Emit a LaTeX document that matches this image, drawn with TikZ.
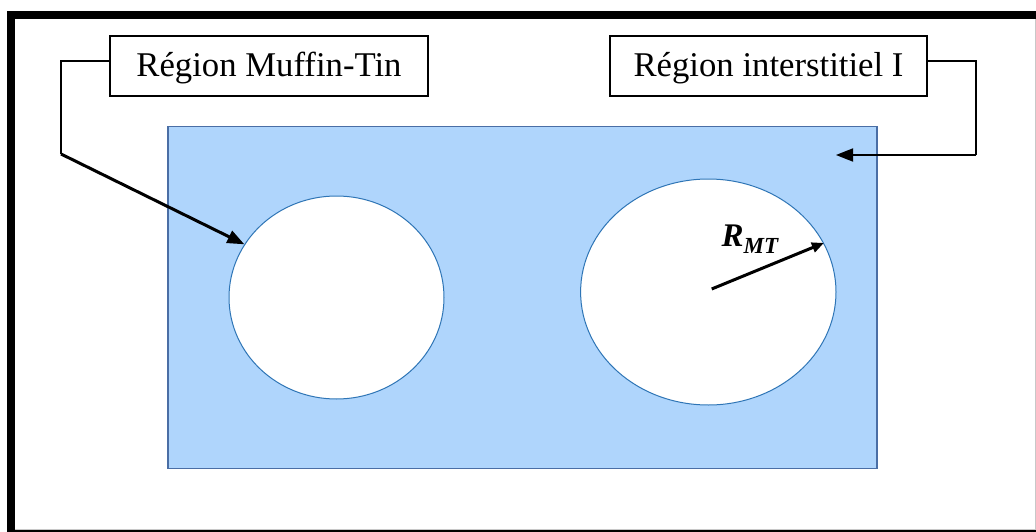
\documentclass[tikz,border=0pt]{standalone}
\usepackage{fontspec}
\setmainfont{Liberation Serif}
\usetikzlibrary{arrows.meta,shapes.geometric}

\definecolor{cellfill}{RGB}{175,213,252}
\definecolor{celledge}{RGB}{74,110,165}
\definecolor{sphereedge}{RGB}{46,117,182}
\definecolor{framegray}{RGB}{200,200,200}

\tikzset{
  labelbox/.style={draw=black, line width=1.5pt, fill=white, inner sep=0pt,
    minimum height=60pt, text height=31pt, text depth=9pt,
    font=\fontsize{34.7}{40}\selectfont},
  cell/.style={draw=celledge, line width=1.5pt, fill=cellfill, inner sep=0pt},
  sphere/.style={ellipse, draw=sphereedge, line width=1pt, fill=white, inner sep=0pt},
  elbow/.style={draw=black, line width=1.8pt},
  pointer/.style={draw=black, line width=3pt, -{Triangle[length=17pt,width=13pt]}},
  radius arrow/.style={draw=black, line width=3pt, -{Triangle[length=12pt,width=10pt]}},
}

\begin{document}
\begin{tikzpicture}[x=1pt, y=-1pt]
  \useasboundingbox (0,0) rectangle (1036,532);

  % page frame
  \fill[black] (7,11) rectangle (1036,19);
  \fill[black] (7,11) rectangle (15,532);
  \fill[black] (7,530) rectangle (1036,532);
  \draw[framegray, line width=1pt] (1035,19) -- (1035,529) -- (15,529);

  % interstitial region and muffin-tin spheres
  \node[cell, minimum width=709pt, minimum height=342pt] (cell) at (522.7,297.5) {};
  \node[sphere, minimum width=215pt, minimum height=203pt] (mt1) at (336.5,297.5) {};
  \node[sphere, minimum width=255.4pt, minimum height=226pt] (mt2) at (708.3,292) {};

  % labels
  \node[labelbox, minimum width=318pt] (lmt) at (269,66) {Région Muffin-Tin};
  \node[labelbox, minimum width=317pt] (lint) at (768.5,66) {Région interstitiel I};

  % connector to the left sphere
  \coordinate (a1) at (61,61);
  \coordinate (a2) at (61,154);
  \draw[elbow] (lmt.west |- a1) -- (a1) -- (a2);
  \draw[pointer] (a2) -- (mt1.150);

  % connector to the interstitial region
  \coordinate (b1) at (976,61);
  \coordinate (b2) at (976,155);
  \coordinate (b3) at (836,155);
  \draw[elbow] (lint.east |- b1) -- (b1) -- (b2);
  \draw[elbow, -{Triangle[length=17pt,width=13pt]}] (b2) -- (b3);

  % muffin-tin radius
  \coordinate (c2) at (711.7,289);
  \draw[radius arrow] (c2) -- (mt2.23);
  \node[anchor=base west, inner sep=0pt] (rmt) at (721.5,246.7)
    {\bfseries\itshape\fontsize{33}{36}\selectfont R\raisebox{-7pt}{\fontsize{23}{26}\selectfont MT}};
\end{tikzpicture}
\end{document}
